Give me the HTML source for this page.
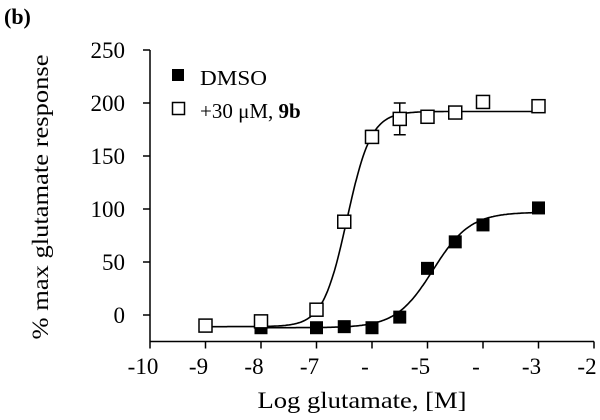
<!DOCTYPE html>
<html><head><meta charset="utf-8"><style>
body{margin:0;background:#fff}
svg text{font-family:"Liberation Serif",serif;fill:#000}
</style></head><body>
<svg id="c" width="600" height="415" viewBox="0 0 600 415" xmlns="http://www.w3.org/2000/svg">
<text x="4" y="24" font-size="22" font-weight="bold">(b)</text>
<g id="axes"></g><g id="curves"></g><g id="marks"></g>
<g>
<rect x="172" y="69" width="12" height="12" fill="#000"/>
<text x="200" y="85" font-size="21" textLength="67" lengthAdjust="spacingAndGlyphs">DMSO</text>
<rect x="172.5" y="102.5" width="12" height="12" fill="#fff" stroke="#000" stroke-width="1.5"/>
<text x="200" y="118" font-size="21">+30 μM, <tspan font-weight="bold">9b</tspan></text>
</g>
<text x="362" y="408" font-size="23" text-anchor="middle" textLength="209" lengthAdjust="spacingAndGlyphs">Log glutamate, [M]</text>
<text transform="translate(48,197) rotate(-90)" font-size="23" text-anchor="middle" textLength="285" lengthAdjust="spacingAndGlyphs">% max glutamate response</text>
</svg>
<script>
const xTicks=[-10,-9,-8,-7,-6,-5,-4,-3,-2];
const xTickLabels=["-10","-9","-8","-7","-","-5","-","-3","-2"];
const yTicks=[0,50,100,150,200,250];
const dmsoX=[-8,-7,-6.5,-6,-5.5,-5,-4.5,-4,-3];
const dmsoY=[-12,-12,-11,-12,-2,44,69,85,101];
const b9X=[-9,-8,-7,-6.5,-6,-5.5,-5,-4.5,-4,-3];
const b9Y=[-10,-6,5,88,168,185,187,191,201,197];
const b9Err=[0,0,0,0,6,15,0,0,0,0];
const dmsoFit=[-12,97,-4.9,1.3];
const b9Fit=[-11,192,-6.45,2.0];
const NS="http://www.w3.org/2000/svg";
const X=v=>150+(v+10)*55.5;
const Y=v=>315-v*1.06;
function mk(t,a,p){const e=document.createElementNS(NS,t);for(const k in a)e.setAttribute(k,a[k]);p.appendChild(e);return e;}
const ax=document.getElementById('axes'),cv=document.getElementById('curves'),mg=document.getElementById('marks');
let l=mk('line',{x1:150,y1:Y(-25),x2:X(-2),y2:Y(-25),stroke:'#000','stroke-width':1.5},ax);


l=mk('line',{x1:150,y1:Y(250),x2:150,y2:Y(-25),stroke:'#000','stroke-width':1.5},ax);


xTicks.forEach((v,i)=>{
 mk('line',{x1:X(v),y1:Y(-25),x2:X(v),y2:Y(-25)+7,stroke:'#000','stroke-width':1.5},ax);
 const t=mk('text',{x:X(v)-7,y:374,'font-size':23,'text-anchor':'middle'},ax);t.textContent=xTickLabels[i];
 
 
});
yTicks.forEach(v=>{
 mk('line',{x1:143,y1:Y(v),x2:150,y2:Y(v),stroke:'#000','stroke-width':1.5},ax);
 const t=mk('text',{x:125,y:Y(v)+8,'font-size':23,'text-anchor':'end'},ax);t.textContent=v;
 
 
});
function curve(f,x0,x1,name){let d='';for(let x=x0;x<=x1+1e-9;x+=0.02){const y=f[0]+(f[1]-f[0])/(1+Math.pow(10,(f[2]-x)*f[3]));d+=(d?'L':'M')+X(x).toFixed(1)+','+Y(y).toFixed(1);}
 const p=mk('path',{d:d,fill:'none',stroke:'#000','stroke-width':1.6},cv);
 
 }
curve(dmsoFit,-8,-3,'dmso-fit-curve');
curve(b9Fit,-9,-3,'9b-fit-curve');
dmsoX.forEach((x,i)=>{const r=mk('rect',{x:X(x)-6.5,y:Y(dmsoY[i])-6.5,width:13,height:13,fill:'#000'},mg);
 
 });
b9X.forEach((x,i)=>{const e=b9Err[i];
 if(e){mk('path',{d:`M${X(x)},${Y(b9Y[i]+e)}V${Y(b9Y[i]-e)}M${X(x)-6},${Y(b9Y[i]+e)}h12M${X(x)-6},${Y(b9Y[i]-e)}h12`,stroke:'#000','stroke-width':1.5,fill:'none'},mg);}
 const r=mk('rect',{x:X(x)-6.5,y:Y(b9Y[i])-6.5,width:13,height:13,fill:'#fff',stroke:'#000','stroke-width':1.5},mg);
 
 });
</script>
</body></html>
